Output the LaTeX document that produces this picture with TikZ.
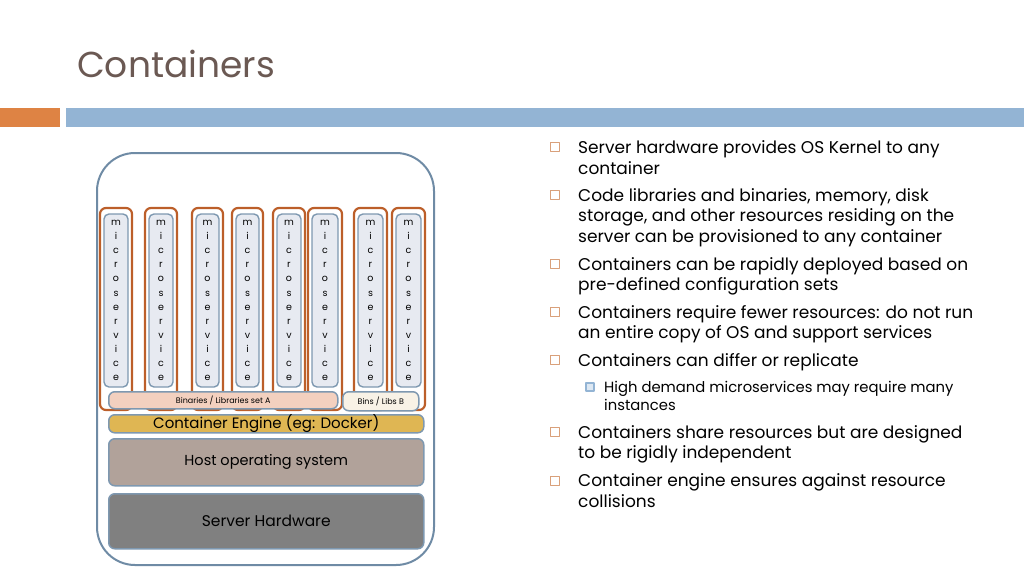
\documentclass[tikz,border=0pt]{standalone}
\usepackage{fontspec}
\setmainfont{Poppins}
\usetikzlibrary{positioning}
\definecolor{ttl}{HTML}{6B5953}
\definecolor{obar}{HTML}{DE8344}
\definecolor{bbar}{HTML}{93B4D4}
\definecolor{frame}{HTML}{6F8BA5}
\definecolor{cont}{HTML}{BC5F2A}
\definecolor{msfill}{HTML}{E7EAF1}
\definecolor{msline}{HTML}{7E98B0}
\definecolor{binA}{HTML}{F3D0BF}
\definecolor{binB}{HTML}{F8F2E6}
\definecolor{engine}{HTML}{DFB653}
\definecolor{hostos}{HTML}{B1A29A}
\definecolor{hw}{HTML}{808080}
\definecolor{bulo}{HTML}{D9A07A}
\definecolor{subin}{HTML}{DDE8F3}

\begin{document}
\begin{tikzpicture}[x=1pt, y=-1pt, line join=round,
  layer/.style={draw=msline, line width=1.5pt, rounded corners=6pt, inner sep=0pt, anchor=north west},
  contbox/.style={draw=cont, line width=2.2pt, rounded corners=6pt, inner sep=0pt},
  msbox/.style={draw=msline, fill=msfill, line width=1.4pt, rounded corners=5pt, inner sep=0pt, align=center, font=\fontsize{9.5}{14.1}\selectfont},
  bul/.style={draw=bulo, line width=.9pt, minimum size=9pt, inner sep=0pt},
  subbul/.style={draw=bbar, fill=subin, line width=2.4pt, minimum size=8pt, inner sep=0pt},
  mainline/.style={anchor=base west, inner sep=0pt, font=\fontsize{17}{20.5}\selectfont},
  subline/.style={anchor=base west, inner sep=0pt, font=\fontsize{14.8}{18}\selectfont}]

\useasboundingbox (0,0) rectangle (1024,576);

% title and bars
\node[anchor=base west, inner sep=0pt, text=ttl, font=\fontsize{36}{40}\selectfont] (title) at (77,77) {Containers};
\fill[obar] (0,108) rectangle (60,127);
\fill[bbar] (66,108) rectangle (1024,127);

% host box
\draw[frame, line width=2pt, rounded corners=38pt] (97,153) rectangle (434,565);

% containers with one microservice each
\foreach \i/\l/\r in {1/100/132, 2/145/177, 3/192/223, 4/232/263, 5/273/305, 6/308/342, 7/354/387, 8/392/425}{
  \node[contbox, minimum width={(\r-\l)*1pt}, minimum height=202pt] (c\i) at ({(\l+\r)/2},309) {};
  \node[msbox, minimum width={(\r-\l-8)*1pt}, minimum height=173pt] (ms\i) at ({(\l+\r)/2},300.5) {m\\i\\c\\r\\o\\s\\e\\r\\v\\i\\c\\e};
}

\node[layer, fill=binA, minimum width=229pt, minimum height=17pt, font=\fontsize{8}{9}\selectfont] (binsA) at (108,391) {Binaries / Libraries set A};
\node[layer, fill=binB, minimum width=76pt, minimum height=19pt, font=\fontsize{8}{9}\selectfont] (binsB) at (342,391) {Bins / Libs B};

% stack
\node[layer, fill=engine, minimum width=315pt, minimum height=18pt, font=\fontsize{15}{16}\selectfont] (engine) at (108,414) {Container Engine (eg: Docker)};
\node[layer, fill=hostos, minimum width=315pt, minimum height=47pt, font=\fontsize{14.5}{16}\selectfont] (os) at (108,438) {Host operating system};
\node[layer, fill=hw, minimum width=315pt, minimum height=55pt, font=\fontsize{15.5}{16}\selectfont] (hw) at (108,493) {Server Hardware};

% bullet list
\foreach \y [count=\k] in {147,195,264,312,360,432,481}
  \node[bul] (b\k) at (555,\y) {};
\node[subbul] (sb1) at (590,387) {};

\foreach \y/\t [count=\k] in {
  153.5/{Server hardware provides OS Kernel to any},
  174/{container},
  201/{Code libraries and binaries, memory, disk},
  221.5/{storage, and other resources residing on the},
  242/{server can be provisioned to any container},
  270/{Containers can be rapidly deployed based on},
  290.5/{pre-defined configuration sets},
  318/{Containers require fewer resources: do not run},
  338.5/{an entire copy of OS and support services},
  366/{Containers can differ or replicate},
  438/{Containers share resources but are designed},
  458.5/{to be rigidly independent},
  486.5/{Container engine ensures against resource},
  507/{collisions}}
  \node[mainline] (t\k) at (578,\y) {\t};

\node[subline] (s1) at (604,392) {High demand microservices may require many};
\node[subline] (s2) at (604,410) {instances};

\end{tikzpicture}
\end{document}
